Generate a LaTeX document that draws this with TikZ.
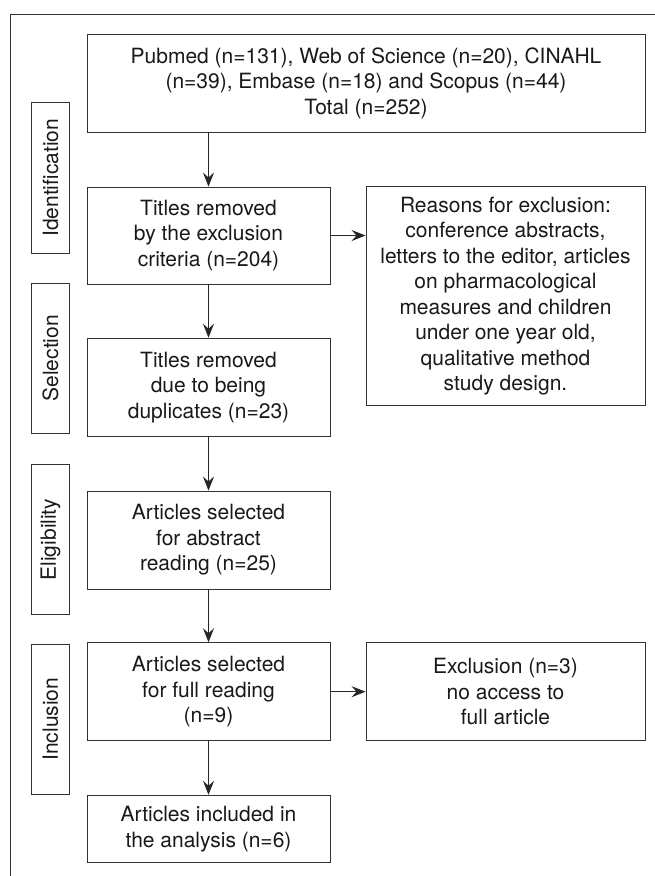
\documentclass[tikz,border=0pt]{standalone}
\usepackage{fontspec}
\setmainfont{TeX Gyre Heros}
\usepackage{tikz}
\usetikzlibrary{arrows.meta}

\tikzset{
    stage/.style = {draw = black!80, line width = 0.9pt, align = center, inner sep = 0pt, text = black!90},
    side/.style = {draw = black!80, line width = 0.9pt, inner sep = 0pt, minimum width = 37.6pt, minimum height = 150.5pt, text = black!90},
    flow/.style = {draw = black!85, line width = 0.9pt, -{Stealth[length = 14pt, width = 11pt, inset = 5pt]}}
}

\begin{document}
\begin{tikzpicture}[x = 1pt, y = -1pt, font = \fontsize{21pt}{25.5pt}\selectfont]
        \useasboundingbox (0, 0) rectangle (655, 876);
        \draw [black!80, line width = 0.9pt] (655, 14) -- (10, 14) -- (10, 876);
        % stage labels
        \node [side] (ident) at (50.5, 177.8) {\rotatebox{90}{Identification}};
        \node [side] (select) at (50.5, 358.2) {\rotatebox{90}{Selection}};
        \node [side] (elig) at (50.5, 539.5) {\rotatebox{90}{Eligibility}};
        \node [side] (incl) at (50.5, 719.2) {\rotatebox{90}{Inclusion}};
        % boxes
        \node [stage, minimum width = 558pt, minimum height = 98pt] (src) at (366, 83) {Pubmed (n=131), Web of Science (n=20), CINAHL\\(n=39), Embase (n=18) and Scopus (n=44)\\Total (n=252)};
        \node [stage, minimum width = 243pt, minimum height = 97pt] (titles) at (208.5, 235.5) {Titles removed\\by the exclusion\\criteria (n=204)};
        \node [stage, minimum width = 279pt, minimum height = 219pt] (reasons) at (505.5, 296.3) {Reasons for exclusion:\\conference abstracts,\\letters to the editor, articles\\on pharmacological\\measures and children\\under one year old,\\qualitative method\\study design.};
        \node [stage, minimum width = 243pt, minimum height = 98.7pt] (dupl) at (208.5, 387.5) {Titles removed\\due to being\\duplicates (n=23)};
        \node [stage, minimum width = 243pt, minimum height = 98pt] (abstr) at (208.5, 540) {Articles selected\\for abstract\\reading (n=25)};
        \node [stage, minimum width = 243pt, minimum height = 98pt] (full) at (208.5, 691.7) {Articles selected\\for full reading\\(n=9)};
        \node [stage, minimum width = 279pt, minimum height = 98pt] (excl) at (505.5, 691.7) {Exclusion (n=3)\\no access to\\full article};
        \node [stage, minimum width = 243pt, minimum height = 67.5pt] (final) at (208.5, 829) {Articles included in\\the analysis (n=6)};
        % arrows
        \draw [flow] (src.south -| titles.north) -- (titles);
        \draw [flow] (titles) -- (reasons.west |- titles.east);
        \draw [flow] (titles) -- (dupl);
        \draw [flow] (dupl) -- (abstr);
        \draw [flow] (abstr) -- (full);
        \draw [flow] (full) -- (excl);
        \draw [flow] (full) -- (final);
    \end{tikzpicture}
\end{document}
